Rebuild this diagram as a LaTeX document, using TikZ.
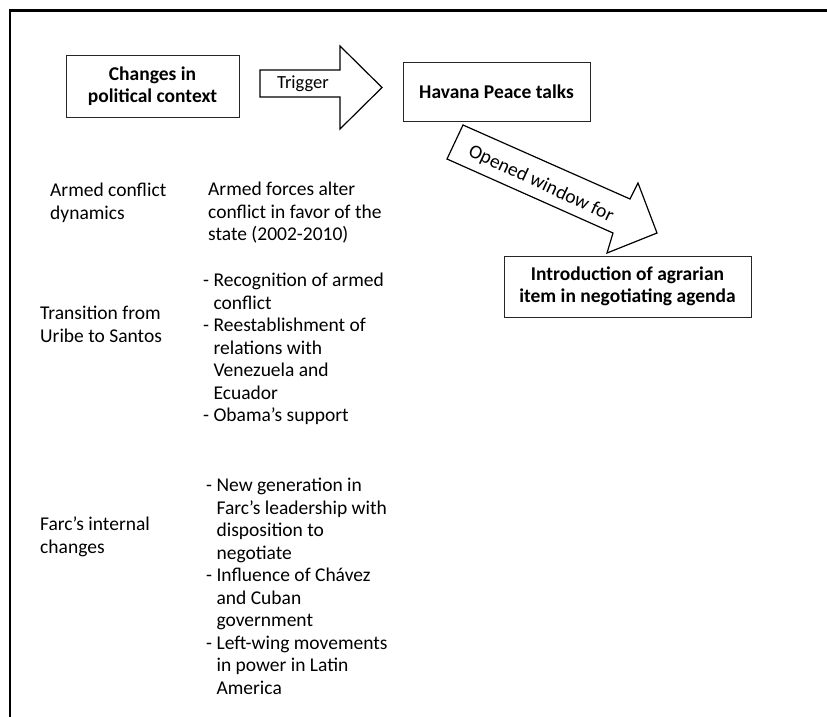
\documentclass[tikz,border=0pt]{standalone}
\usepackage{fontspec}
\setmainfont{Carlito}
\newcommand\skipdash{\hphantom{- }}
\begin{document}
\begin{tikzpicture}[x=1pt,y=-1pt,
    box/.style={draw=black!85, line width=0.9pt, align=center, inner sep=0pt,
        font=\bfseries\fontsize{19.5}{22.5}\selectfont},
    blockarrow/.style={draw, line width=1.2pt, line join=miter},
    arrowtext/.style={inner sep=0pt, font=\fontsize{18.5}{22}\selectfont},
    txt/.style={align=left, anchor=north west, inner sep=0pt,
        font=\fontsize{19.5}{22.5}\selectfont}]
    \useasboundingbox (0,0) rectangle (827,717);
    % frame
    \draw[line width=2.5pt] (10,717) -- (10,10.5) -- (827,10.5);
    % boxes
    \node[box, minimum width=173pt, minimum height=62pt] (changes) at (152.5,86) {Changes in\\political context};
    \node[box, minimum width=187pt, minimum height=59pt] (havana) at (496.5,91.5) {Havana Peace talks};
    \node[box, minimum width=247pt, minimum height=61pt] (agrarian) at (627.5,286.5) {Introduction of agrarian\\item in negotiating agenda};
    % block arrows
    \draw[blockarrow] (260,70) -- (340,70) -- (340,46) -- (382,87.5) -- (340,129) -- (340,97) -- (260,97) -- cycle;
    \node[arrowtext] (trigger) at (303,83.5) {Trigger};
    \draw[blockarrow] (463,125) -- (630,199) -- (638,183) -- (657,233) -- (607,253) -- (613,233) -- (447,159) -- cycle;
    \node[arrowtext, font=\fontsize{19.5}{22}\selectfont, rotate=-25] (window) at (541,184) {Opened window for};
    % left column
    \node[txt] (dynamics) at (50,183) {Armed conflict\\dynamics};
    \node[txt] (transition) at (40,306) {Transition from\\Uribe to Santos};
    \node[txt] (internal) at (40,517) {Farc’s internal\\changes};
    % middle column
    \node[txt] (forces) at (208,182) {Armed forces alter\\conflict in favor of the\\state (2002-2010)};
    \node[txt] (santos) at (203,273) {- Recognition of armed\\\skipdash conflict\\- Reestablishment of\\\skipdash relations with\\\skipdash Venezuela and\\\skipdash Ecuador\\- Obama’s support};
    \node[txt] (leaders) at (206,478) {- New generation in\\\skipdash Farc’s leadership with\\\skipdash disposition to\\\skipdash negotiate\\- Influence of Chávez\\\skipdash and Cuban\\\skipdash government\\- Left-wing movements\\\skipdash in power in Latin\\\skipdash America};
\end{tikzpicture}
\end{document}
